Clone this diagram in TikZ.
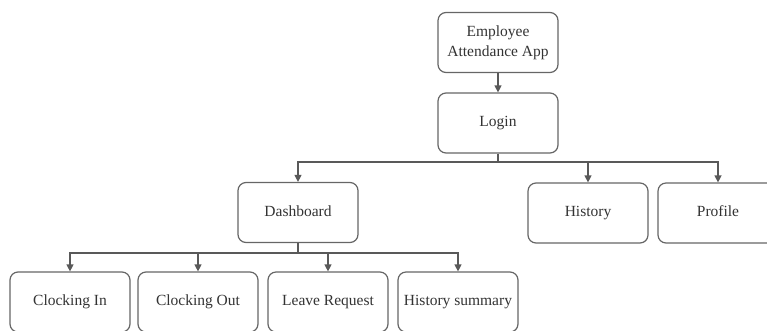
\documentclass[tikz,border=0pt]{standalone}
\usepackage{fontspec}
\setmainfont{Liberation Serif}
\usetikzlibrary{arrows.meta}
\begin{document}
\begin{tikzpicture}[x=1pt,y=-1pt,
  box/.style={draw=black!60, line width=1.2pt, rounded corners=8pt, fill=white,
    minimum width=120pt, minimum height=60pt, inner sep=2pt, align=center,
    text=black!80, font=\fontsize{15.5}{20}\selectfont},
  onel/.style={box, text height=10.5pt, text depth=3.5pt},
  link/.style={draw=black!65, line width=1.2pt},
  arr/.style={link, -{Triangle[width=7pt,length=7pt]}}]
\useasboundingbox (0,0) rectangle (767,330);
\clip (0,0) rectangle (767,330);

% top chain
\node[box]  (app)   at (498,42.5) {Employee\\Attendance App};
\node[onel] (login) at (498,123)  {Login};

% second level
\node[onel] (dash) at (298,212.5) {Dashboard};
\node[onel] (hist) at (588,213)   {History};
\node[onel] (prof) at (718,213)   {Profile};

% dashboard children
\node[onel] (cin)   at (70,302)  {Clocking In};
\node[onel] (cout)  at (198,302) {Clocking Out};
\node[onel] (leave) at (328,302) {Leave Request};
\node[onel] (hsum)  at (458,302) {History summary};

% connectors
\draw[arr] (app.south) -- (login.north);

\coordinate (j1) at (498,162);
\draw[link] (login.south) -- (j1);
\draw[arr] (j1) -| (dash.north);
\draw[arr] (j1) -| (hist.north);
\draw[arr] (j1) -| (prof.north);

\coordinate (j2) at (298,253);
\draw[link] (dash.south) -- (j2);
\draw[arr] (j2) -| (cin.north);
\draw[arr] (j2) -| (cout.north);
\draw[arr] (j2) -| (leave.north);
\draw[arr] (j2) -| (hsum.north);
\end{tikzpicture}
\end{document}
